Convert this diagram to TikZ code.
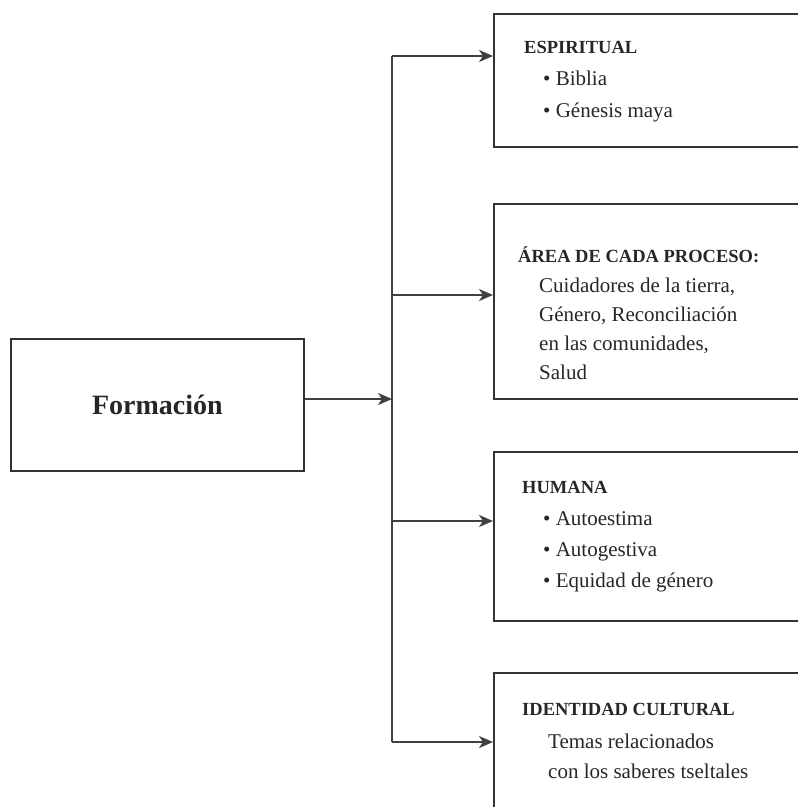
\documentclass[tikz,border=0pt]{standalone}
\usepackage{fontspec}
\setmainfont{Liberation Serif}
\usetikzlibrary{arrows.meta,positioning}

\tikzset{
  caja/.style={draw=black!80, line width=1.8pt, rectangle, anchor=north west, inner sep=0pt},
  linea/.style={draw=black!75, line width=1.7pt},
  flecha/.style={linea, -{Stealth[length=14pt,width=12pt,inset=4pt]}},
  titulo/.style={anchor=base west, inner sep=0pt, text=black!85, font=\fontsize{18.5}{22}\selectfont\bfseries},
  texto/.style={anchor=base west, inner sep=0pt, text=black!85, font=\fontsize{21}{25}\selectfont},
}

\begin{document}
\begin{tikzpicture}[x=1pt,y=-1pt]
  \useasboundingbox (0,0) rectangle (798,807);
  \clip (0,0) rectangle (798,807);

  % cajas
  \node[caja, minimum width=293pt, minimum height=132pt] (form) at (10,338) {};
  \node[font=\fontsize{28}{30}\selectfont\bfseries, text=black!85] (formt) at (form.center) {Formación};
  \node[caja, minimum width=340pt, minimum height=133pt] (esp) at (493,13) {};
  \node[caja, minimum width=340pt, minimum height=195pt] (area) at (493,203) {};
  \node[caja, minimum width=340pt, minimum height=169pt] (hum) at (493,451) {};
  \node[caja, minimum width=340pt, minimum height=160pt] (iden) at (493,672) {};

  % textos
  \node[titulo] (espt) at (524,53) {ESPIRITUAL};
  \node[texto] (esp1) at (543,85) {\textbullet\ Biblia};
  \node[texto] (esp2) at (543,117) {\textbullet\ Génesis maya};

  \node[titulo] (areat) at (518,262) {ÁREA DE CADA PROCESO:};
  \node[texto] (area1) at (539,292) {Cuidadores de la tierra,};
  \node[texto] (area2) at (539,321) {Género, Reconciliación};
  \node[texto] (area3) at (539,350) {en las comunidades,};
  \node[texto] (area4) at (539,379) {Salud};

  \node[titulo] (humt) at (522,493) {HUMANA};
  \node[texto] (hum1) at (543,525) {\textbullet\ Autoestima};
  \node[texto] (hum2) at (543,556) {\textbullet\ Autogestiva};
  \node[texto] (hum3) at (543,587) {\textbullet\ Equidad de género};

  \node[titulo] (ident) at (522,715) {IDENTIDAD CULTURAL};
  \node[texto] (iden1) at (548,748) {Temas relacionados};
  \node[texto] (iden2) at (548,778) {con los saberes tseltales};

  % conectores
  \coordinate (r0) at (392,399);
  \coordinate (r1) at (392,56);
  \coordinate (r2) at (392,295);
  \coordinate (r3) at (392,521);
  \coordinate (r4) at (392,742);
  \draw[flecha] (form.east |- r0) -- (r0);
  \draw[linea] (r1) -- (r4);
  \foreach \i/\b in {1/esp,2/area,3/hum,4/iden}
    \draw[flecha] (r\i) -- (r\i -| \b.west);
\end{tikzpicture}
\end{document}
